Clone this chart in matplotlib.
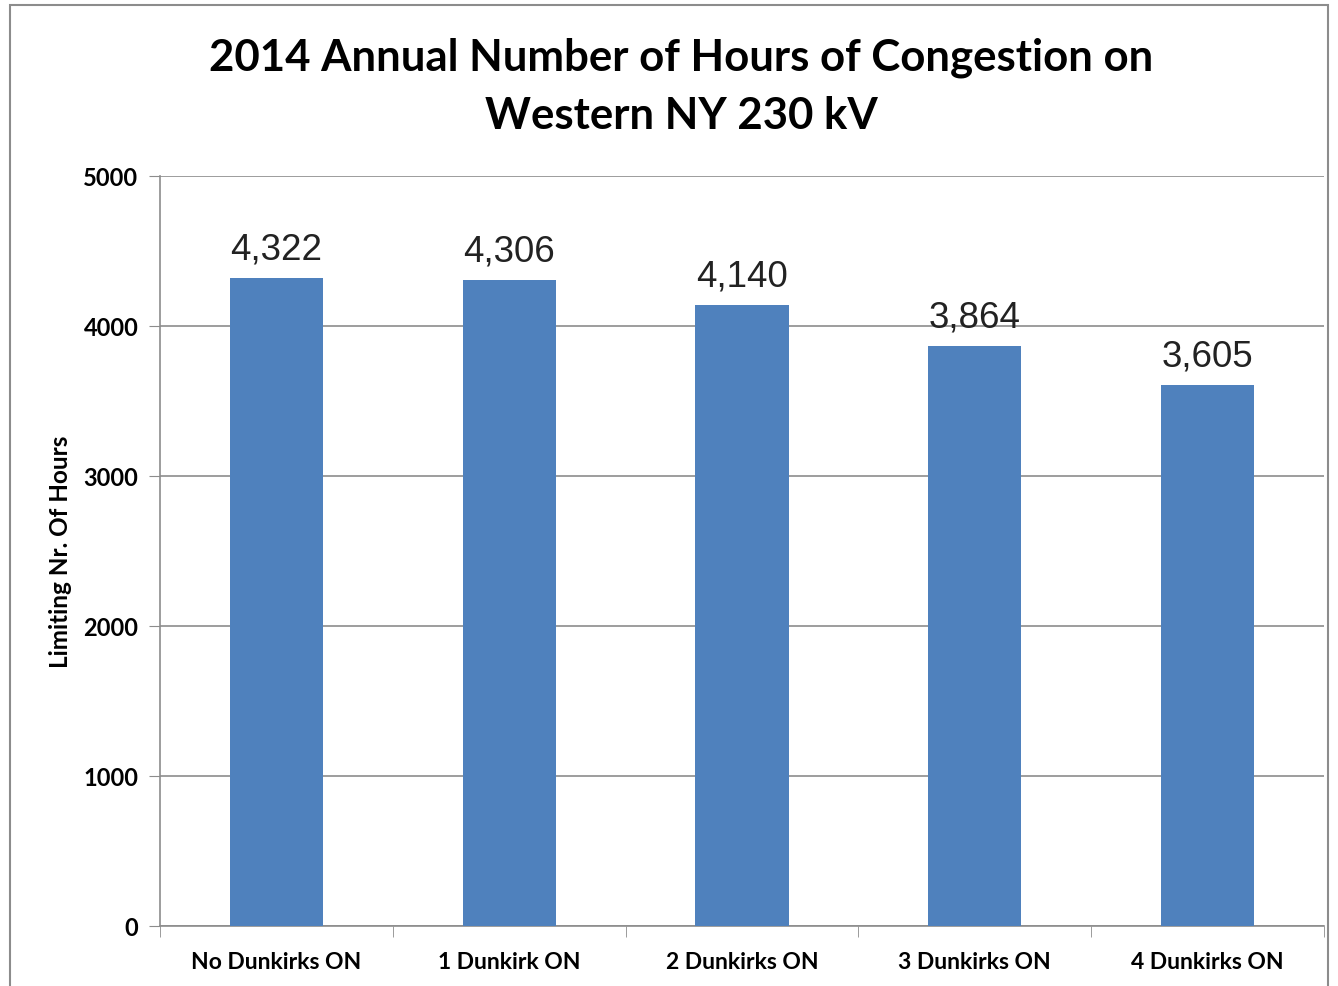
import numpy as np
import matplotlib.pyplot as plt
from matplotlib.patches import Rectangle

categories = ['No Dunkirks ON', '1 Dunkirk ON', '2 Dunkirks ON', '3 Dunkirks ON', '4 Dunkirks ON']
hours = [4322, 4306, 4140, 3864, 3605]
yticks = [0, 1000, 2000, 3000, 4000, 5000]

fig = plt.figure(figsize=(13.38, 9.87), dpi=100)
ax = fig.add_axes([160 / 1338, 1 - 927 / 987, (1324 - 160) / 1338, (927 - 177) / 987])

x = np.arange(len(categories))
ax.bar(x, hours, width=0.4, color='#4F81BD', zorder=3)

# value labels above bars
for xi, h in zip(x, hours):
    ax.text(xi, h + 130, '{:,}'.format(h), ha='center', va='baseline',
            fontsize=26.5, family='Liberation Sans', color='#222222')

ax.set_xlim(-0.5, len(categories) - 0.5)
ax.set_ylim(0, 5000)
ax.set_yticks(yticks)
ax.set_yticklabels([str(t) for t in yticks], fontsize=17, fontweight='bold', family='Lato')
ax.yaxis.grid(True, color='#8c8c8c', linewidth=1.2, zorder=0)

# category ticks sit on the boundaries between groups
ax.set_xticks(x)
ax.set_xticklabels(categories, fontsize=16.5, fontweight='bold', family='Lato')
ax.tick_params(axis='x', length=0, pad=18)
ax.set_xticks(np.arange(-0.5, len(categories)), minor=True)
ax.tick_params(axis='x', which='minor', length=8, color='#8c8c8c', direction='out')
ax.tick_params(axis='y', length=8, color='#8c8c8c', pad=7.5)

for side in ['top', 'right']:
    ax.spines[side].set_visible(False)
ax.spines['left'].set_color('#8c8c8c')
ax.spines['bottom'].set_color('#8c8c8c')
ax.spines['left'].set_linewidth(1.2)
ax.spines['bottom'].set_linewidth(1.2)

ax.set_ylabel('Limiting Nr. Of Hours', fontsize=17.5, fontweight='bold', family='Lato', labelpad=8)

fig.text(0.509, 1 - 87 / 987, '2014 Annual Number of Hours of Congestion on\nWestern NY 230 kV',
         ha='center', va='center', fontsize=31.5, fontweight='bold', family='Lato',
         linespacing=1.55)

# outer chart frame
fig.patches.append(Rectangle((10 / 1338, -0.01), 1318 / 1338, 1 - 6 / 987 + 0.01,
                             transform=fig.transFigure, fill=False,
                             edgecolor='#8c8c8c', linewidth=1.5))

fig.savefig('out.png', dpi=100)
